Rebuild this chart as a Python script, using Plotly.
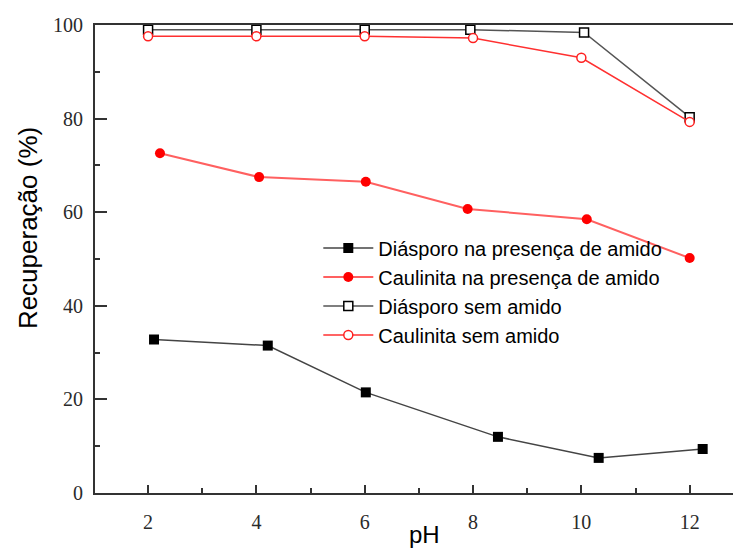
import plotly.graph_objects as go

ph_dia_amido = [2.11, 4.21, 6.02, 8.46, 10.32, 12.24]
rec_dia_amido = [32.8, 31.5, 21.5, 12.0, 7.5, 9.4]

ph_cau_amido = [2.22, 4.05, 6.02, 7.9, 10.1, 12.0]
rec_cau_amido = [72.6, 67.5, 66.5, 60.7, 58.5, 50.2]

ph_dia_sem = [2.0, 4.0, 6.0, 7.95, 10.05, 12.0]
rec_dia_sem = [99.0, 99.0, 99.0, 99.0, 98.4, 80.3]

ph_cau_sem = [2.0, 4.0, 6.0, 8.0, 10.0, 12.0]
rec_cau_sem = [97.6, 97.6, 97.6, 97.2, 93.0, 79.3]

labels = ["Diásporo na presença de amido", "Caulinita na presença de amido",
          "Diásporo sem amido", "Caulinita sem amido"]
x_title = "pH"
y_title = "Recuperação (%)"

fig = go.Figure()
fig.add_trace(go.Scatter(x=ph_dia_amido, y=rec_dia_amido, name=labels[0], mode="lines+markers",
                         legendgroup="a",
                         line=dict(color="#444444", width=1.5),
                         marker=dict(symbol="square", size=10, color="#000000")))
fig.add_trace(go.Scatter(x=ph_cau_amido, y=rec_cau_amido, name=labels[1], mode="lines+markers",
                         legendgroup="b",
                         line=dict(color="#ff6060", width=2),
                         marker=dict(symbol="circle", size=10, color="#ff0000")))
fig.add_trace(go.Scatter(x=ph_dia_sem, y=rec_dia_sem, name=labels[2], mode="lines+markers",
                         legendgroup="c",
                         line=dict(color="#555555", width=1.5),
                         marker=dict(symbol="square", size=9, color="white",
                                     line=dict(color="#000000", width=1.5))))
fig.add_trace(go.Scatter(x=ph_cau_sem, y=rec_cau_sem, name=labels[3], mode="lines+markers",
                         legendgroup="d",
                         line=dict(color="#ff3030", width=1.5),
                         marker=dict(symbol="circle", size=9, color="white",
                                     line=dict(color="#ff2020", width=1.5))))

tick_font = dict(family="Liberation Serif, Times New Roman", size=20, color="#2a2a2a")
title_font = dict(family="Liberation Sans, Arial", size=26, color="#000000")
xtitle_font = dict(family="Liberation Sans, Arial", size=24, color="#000000")

fig.update_layout(
    width=733, height=551,
    margin=dict(l=95, r=0, t=25, b=58),
    paper_bgcolor="white", plot_bgcolor="white",
    showlegend=True,
    legend=dict(x=0.35, y=0.565, xanchor="left", yanchor="top",
                font=dict(family="Liberation Sans, Arial", size=20, color="#000000"),
                bgcolor="rgba(0,0,0,0)", tracegroupgap=3, itemwidth=50,
                traceorder="normal"),
    xaxis=dict(range=[1.02, 12.8], tickvals=[2, 4, 6, 8, 10, 12],
               ticks="inside", ticklen=8, tickwidth=2, tickcolor="#333333",
               minor=dict(tickvals=[3, 5, 7, 9, 11], ticks="inside", ticklen=5,
                          tickwidth=2, tickcolor="#333333"),
               showline=True, linecolor="#333333", linewidth=2, mirror=True,
               showgrid=False, zeroline=False,
               tickfont=tick_font, ticklabelstandoff=10),
    yaxis=dict(range=[0, 100], tickvals=[0, 20, 40, 60, 80, 100],
               ticks="inside", ticklen=12, tickwidth=2, tickcolor="#333333",
               minor=dict(tickvals=[10, 30, 50, 70, 90], ticks="inside", ticklen=5,
                          tickwidth=2, tickcolor="#333333"),
               showline=True, linecolor="#333333", linewidth=2, mirror=False,
               showgrid=False, zeroline=False,
               tickfont=tick_font, ticklabelstandoff=6),
    annotations=[
        dict(text=x_title, xref="paper", yref="paper", x=0.517, y=-0.088,
             xanchor="center", yanchor="middle", showarrow=False, font=xtitle_font),
        dict(text=y_title, xref="paper", yref="paper", x=-0.105, y=0.566,
             xanchor="center", yanchor="middle", textangle=-90, showarrow=False, font=title_font),
    ],
)

fig.write_html("out.html")
